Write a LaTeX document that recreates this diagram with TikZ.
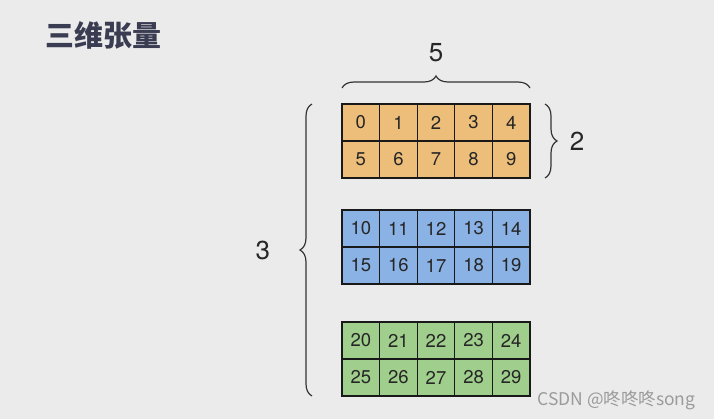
\documentclass[tikz,border=0pt]{standalone}
\usepackage{fontspec}
\setmainfont{TeX Gyre Heros}
\newfontfamily\cjk{Noto Sans CJK SC}
\definecolor{bgcol}{RGB}{235,235,235}
\definecolor{orangecol}{RGB}{237,190,122}
\definecolor{bluecol}{RGB}{139,178,228}
\definecolor{greencol}{RGB}{160,206,140}
\definecolor{titlecol}{RGB}{58,60,82}
\definecolor{markcol}{RGB}{155,155,155}
\usepackage{tikz}
\usetikzlibrary{decorations.pathreplacing,calc}

\begin{document}
\begin{tikzpicture}[x=1pt,y=-1pt,
      cell/.style={draw=black!90,line width=1.1pt,minimum width=37.6pt,minimum height=37pt,inner sep=0pt,outer sep=0pt,text=black!85,font=\fontsize{18.5pt}{21pt}\selectfont},
      ocell/.style={cell,fill=orangecol},
      bcell/.style={cell,fill=bluecol},
      gcell/.style={cell,fill=greencol},
      brace/.style={decorate,decoration={brace,amplitude=12pt},line width=1.2pt,draw=black!80},
      dimlabel/.style={font=\fontsize{26pt}{30pt}\selectfont,text=black!85}
    ]
      \fill[bgcol] (0,0) rectangle (714,419);
      \useasboundingbox (0,0) rectangle (714,419);
      % Title
      \node[font=\cjk\bfseries\fontsize{29pt}{32pt}\selectfont,text=titlecol] (title) at (103,35) {三维张量};
      % Orange block (0-9)
      \node[ocell] (c0) at (360.8,122.5) {0};
      \node[ocell] (c1) at (398.4,122.5) {1};
      \node[ocell] (c2) at (436.0,122.5) {2};
      \node[ocell] (c3) at (473.6,122.5) {3};
      \node[ocell] (c4) at (511.2,122.5) {4};
      \node[ocell] (c5) at (360.8,159.5) {5};
      \node[ocell] (c6) at (398.4,159.5) {6};
      \node[ocell] (c7) at (436.0,159.5) {7};
      \node[ocell] (c8) at (473.6,159.5) {8};
      \node[ocell] (c9) at (511.2,159.5) {9};
      % Blue block (10-19)
      \node[bcell] (c10) at (360.8,228.5) {10};
      \node[bcell] (c11) at (398.4,228.5) {11};
      \node[bcell] (c12) at (436.0,228.5) {12};
      \node[bcell] (c13) at (473.6,228.5) {13};
      \node[bcell] (c14) at (511.2,228.5) {14};
      \node[bcell] (c15) at (360.8,265.5) {15};
      \node[bcell] (c16) at (398.4,265.5) {16};
      \node[bcell] (c17) at (436.0,265.5) {17};
      \node[bcell] (c18) at (473.6,265.5) {18};
      \node[bcell] (c19) at (511.2,265.5) {19};
      % Green block (20-29)
      \node[gcell] (c20) at (360.8,340.5) {20};
      \node[gcell] (c21) at (398.4,340.5) {21};
      \node[gcell] (c22) at (436.0,340.5) {22};
      \node[gcell] (c23) at (473.6,340.5) {23};
      \node[gcell] (c24) at (511.2,340.5) {24};
      \node[gcell] (c25) at (360.8,377.5) {25};
      \node[gcell] (c26) at (398.4,377.5) {26};
      \node[gcell] (c27) at (436.0,377.5) {27};
      \node[gcell] (c28) at (473.6,377.5) {28};
      \node[gcell] (c29) at (511.2,377.5) {29};
      % Braces and sizes
      \draw[brace] ([yshift=16pt]c0.north west) -- ([yshift=16pt]c4.north east)
        node[dimlabel,midway,above=22pt] (ncols) {5};
      \draw[brace] ([xshift=15pt]c4.north east) -- ([xshift=15pt]c9.south east)
        node[dimlabel,midway,right=21pt] (nrows) {2};
      \draw[brace] ([xshift=-30pt]c25.south west) -- ([xshift=-30pt]c0.north west)
        node[dimlabel,midway,left=38pt] (nblocks) {3};
      % Watermark
      \node[font=\cjk\fontsize{17.5pt}{20pt}\selectfont,text=markcol,anchor=east] (mark) at (699,400) {CSDN @咚咚咚song};
    \end{tikzpicture}
\end{document}
